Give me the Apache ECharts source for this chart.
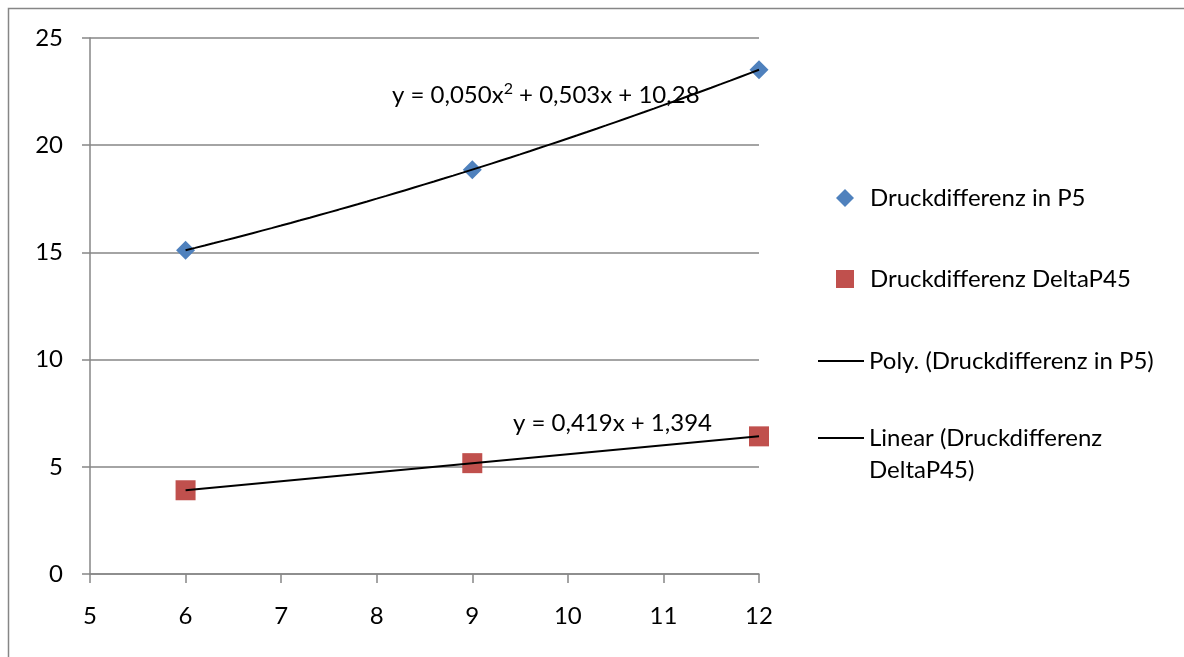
<!DOCTYPE html>
<html>
<head>
<meta charset="utf-8">
<script src="https://cdn.jsdelivr.net/npm/echarts@6/dist/echarts.min.js"></script>
<style>
  html, body { margin: 0; padding: 0; background: #fff; }
  #chart { width: 1184px; height: 657px; }
</style>
</head>
<body>
<div id="chart"></div>
<script>
// Measured pressure differences at three operating points
const xValues = [6, 9, 12];
const druckP5 = [15.1, 18.86, 23.52];
const druckDeltaP45 = [3.906, 5.17, 6.42];

// Axis ranges / tick spacing
const xAxisRange = [5, 12];
const xTickStep = 1;
const yAxisRange = [0, 25];
const yTickStep = 5;

// Series names as shown in the legend
const nameP5 = 'Druckdifferenz in P5';
const nameP45 = 'Druckdifferenz DeltaP45';
const namePoly = 'Poly. (Druckdifferenz in P5)';
const nameLinear = 'Linear (Druckdifferenz DeltaP45)';

// Least-squares polynomial fit, returns [c0, c1, c2, ...]
function polyFit(xs, ys, degree) {
  const n = degree + 1;
  const A = Array.from({ length: n }, () => new Array(n).fill(0));
  const b = new Array(n).fill(0);
  for (let k = 0; k < xs.length; k++) {
    for (let i = 0; i < n; i++) {
      b[i] += ys[k] * Math.pow(xs[k], i);
      for (let j = 0; j < n; j++) A[i][j] += Math.pow(xs[k], i + j);
    }
  }
  for (let col = 0; col < n; col++) {
    let piv = col;
    for (let r = col + 1; r < n; r++) if (Math.abs(A[r][col]) > Math.abs(A[piv][col])) piv = r;
    [A[col], A[piv]] = [A[piv], A[col]];
    [b[col], b[piv]] = [b[piv], b[col]];
    for (let r = col + 1; r < n; r++) {
      const f = A[r][col] / A[col][col];
      for (let c = col; c < n; c++) A[r][c] -= f * A[col][c];
      b[r] -= f * b[col];
    }
  }
  const coef = new Array(n).fill(0);
  for (let r = n - 1; r >= 0; r--) {
    let s = b[r];
    for (let c = r + 1; c < n; c++) s -= A[r][c] * coef[c];
    coef[r] = s / A[r][r];
  }
  return coef;
}

function evalPoly(coef, x) {
  return coef.reduce((s, c, i) => s + c * Math.pow(x, i), 0);
}

// Sampled fit curve across the data range
function fitCurve(coef, xs, steps) {
  const lo = Math.min(...xs), hi = Math.max(...xs);
  const pts = [];
  for (let i = 0; i <= steps; i++) {
    const x = lo + (hi - lo) * i / steps;
    pts.push([x, evalPoly(coef, x)]);
  }
  return pts;
}

// German-style number formatting for the equation labels
function fmt(v) {
  const d = Math.abs(v) >= 10 ? 2 : 3;
  return v.toFixed(d).replace('.', ',');
}

const polyCoef = polyFit(xValues, druckP5, 2);
const linCoef = polyFit(xValues, druckDeltaP45, 1);

const polyLabel = '{n|y = ' + fmt(polyCoef[2]) + 'x}{sup|2}{n| + ' + fmt(polyCoef[1]) + 'x + ' + fmt(polyCoef[0]) + '}';
const linLabel = 'y = ' + fmt(linCoef[1]) + 'x + ' + fmt(linCoef[0]);

const FONT = 'Lato';
const FS = 24;
const gray = '#868686';
const blue = '#4F81BD';
const red = '#C0504D';

const legendText = { fontFamily: FONT, fontSize: FS, color: '#000' };

// Line-style legend icons: a 2px bar; tiny zero-area segments pin the icon box size
const lineIconMid = 'path://M0,8L46,8L46,10L0,10Z M0,0L0.01,0 M0,18L0.01,18';
const lineIconTop = 'path://M0,0L46,0L46,2L0,2Z M0,34L0.01,34';

const chart = echarts.init(document.getElementById('chart'), null, { renderer: 'canvas' });

chart.setOption({
  animation: false,
  backgroundColor: '#fff',
  grid: { left: 90, top: 38, right: 425, bottom: 83, containLabel: false },
  xAxis: {
    type: 'value',
    min: xAxisRange[0], max: xAxisRange[1], interval: xTickStep,
    axisLine: { show: true, lineStyle: { color: gray, width: 1.5 } },
    axisTick: { show: true, length: 9, lineStyle: { color: gray, width: 1.5 } },
    splitLine: { show: false },
    axisLabel: { fontFamily: FONT, fontSize: FS, color: '#000', margin: 30 }
  },
  yAxis: {
    type: 'value',
    min: yAxisRange[0], max: yAxisRange[1], interval: yTickStep,
    axisLine: { show: true, onZero: false, lineStyle: { color: gray, width: 1.5 } },
    axisTick: { show: true, length: 8, lineStyle: { color: gray, width: 1.5 } },
    splitLine: { show: true, lineStyle: { color: gray, width: 1.5 } },
    axisLabel: { fontFamily: FONT, fontSize: FS, color: '#000', margin: 27 }
  },
  legend: [
    {
      orient: 'vertical', left: 831, top: 181, itemWidth: 18, itemHeight: 18,
      data: [{ name: nameP5, icon: 'diamond' }],
      textStyle: Object.assign({ padding: [0, 0, 0, 11] }, legendText),
      selectedMode: false
    },
    {
      orient: 'vertical', left: 831, top: 262, itemWidth: 18, itemHeight: 18,
      data: [{ name: nameP45, icon: 'rect' }],
      textStyle: Object.assign({ padding: [0, 0, 0, 11] }, legendText),
      selectedMode: false
    },
    {
      orient: 'vertical', left: 813, top: 344, itemWidth: 46, itemHeight: 18,
      data: [{ name: namePoly, icon: lineIconMid, itemStyle: { color: '#000', borderWidth: 0 } }],
      textStyle: legendText,
      selectedMode: false
    },
    {
      orient: 'vertical', left: 813, top: 417, itemWidth: 46, itemHeight: 34,
      data: [{ name: nameLinear, icon: lineIconTop, itemStyle: { color: '#000', borderWidth: 0 } }],
      formatter: () => 'Linear (Druckdifferenz\nDeltaP45)',
      textStyle: Object.assign({ lineHeight: 32 }, legendText),
      selectedMode: false
    }
  ],
  graphic: [
    {
      type: 'rect', silent: true, z: -10,
      shape: { x: 8.5, y: 8.5, width: 1300, height: 800 },
      style: { fill: 'none', stroke: gray, lineWidth: 1.5 }
    },
    {
      type: 'text', left: 392, top: 81, silent: true,
      style: {
        text: polyLabel, fontFamily: FONT, fontSize: FS, fill: '#000',
        rich: {
          n: { fontFamily: FONT, fontSize: FS, fill: '#000', lineHeight: 29 },
          sup: { fontFamily: FONT, fontSize: 16, fill: '#000', verticalAlign: 'top', lineHeight: 18 }
        }
      }
    },
    {
      type: 'text', left: 513, top: 411, silent: true,
      style: { text: linLabel, fontFamily: FONT, fontSize: FS, fill: '#000' }
    }
  ],
  series: [
    {
      name: nameP5, type: 'scatter', symbol: 'diamond', symbolSize: 19,
      itemStyle: { color: blue, opacity: 1 },
      data: xValues.map((x, i) => [x, druckP5[i]]), z: 2
    },
    {
      name: nameP45, type: 'scatter', symbol: 'rect', symbolSize: 20,
      itemStyle: { color: red, opacity: 1 },
      data: xValues.map((x, i) => [x, druckDeltaP45[i]]), z: 2
    },
    {
      name: namePoly, type: 'line', showSymbol: false, symbol: 'none',
      lineStyle: { color: '#000', width: 2 }, itemStyle: { color: '#000' },
      data: fitCurve(polyCoef, xValues, 60), z: 3
    },
    {
      name: nameLinear, type: 'line', showSymbol: false, symbol: 'none',
      lineStyle: { color: '#000', width: 2 }, itemStyle: { color: '#000' },
      data: fitCurve(linCoef, xValues, 1), z: 3
    }
  ]
});
</script>
</body>
</html>
